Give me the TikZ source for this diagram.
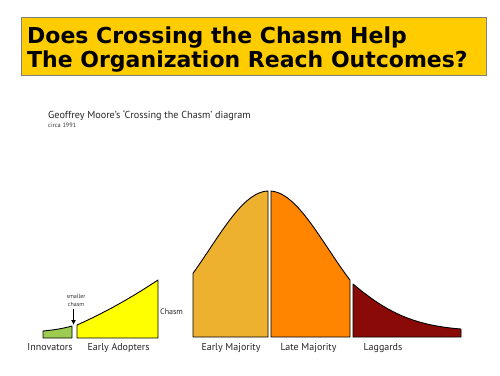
\documentclass[tikz,border=0pt]{standalone}
\usepackage{fontspec}
\setmainfont{PT Sans}
\newfontfamily\titlefont{DejaVu Sans}
\usetikzlibrary{arrows.meta}
\definecolor{titleyellow}{HTML}{FFCC00}
\definecolor{innogreen}{HTML}{9CCC50}
\definecolor{adoptyellow}{HTML}{FFFF00}
\definecolor{emgold}{HTML}{EDB12F}
\definecolor{lmorange}{HTML}{FF8500}
\definecolor{lagred}{HTML}{8A0A08}
\begin{document}
\begin{tikzpicture}[x=1pt,y=-1pt,
  seg/.style={draw=black, line width=0.9pt, line join=round},
  titletext/.style={anchor=base west, inner sep=0pt, font=\titlefont\bfseries\fontsize{22}{24}\selectfont},
  lab/.style={anchor=base, inner sep=0pt, font=\fontsize{10}{12}\selectfont, text=black!85},
  tiny/.style={anchor=base, inner sep=0pt, font=\fontsize{6}{7}\selectfont, text=black!80}]
\useasboundingbox (0,0) rectangle (500,375);
% title box
\node (titlebox) [draw=gray, line width=1pt, fill=titleyellow, anchor=north west,
  minimum width=465pt, minimum height=58pt, inner sep=0pt] at (21,17) {};
\node (t1) [titletext] at (27,43) {Does Crossing the Chasm Help};
\node (t2) [titletext] at (27,67) {The Organization Reach Outcomes?};
% subtitle
\node (sub) [anchor=base west, inner sep=0pt, font=\fontsize{10.2}{12}\selectfont, text=black!85] at (48,118) {Geoffrey Moore's `Crossing the Chasm' diagram};
\node (circa) [anchor=base west, inner sep=0pt, font=\fontsize{6.3}{7}\selectfont, text=black!80] at (48,127) {circa 1991};
% innovators
\path[seg, fill=innogreen] (43,338) -- (43,331) .. controls (54,330) and (63,328.5) .. (72,326) -- (72,338) -- cycle;
% early adopters
\path[seg, fill=adoptyellow] (77,338) -- plot[domain=77:158, samples=40, smooth] (\x, {338 - (13 + 0.4458*(\x-77) + 0.001355*(\x-77)*(\x-77))}) -- (158,338) -- cycle;
% early majority
\path[seg, fill=emgold] (193,337) -- plot[domain=193:268, samples=50, smooth] (\x, {337 - 146*exp(-((\x-269)/59)*((\x-269)/59)/2)}) -- (268,337) -- cycle;
% late majority
\path[seg, fill=lmorange] (271,337) -- plot[domain=271:350, samples=50, smooth] (\x, {337 - 146*exp(-((\x-269)/59)*((\x-269)/59)/2)}) -- (350,337) -- cycle;
% laggards
\path[seg, fill=lagred] (353,337) -- plot[domain=353:461, samples=50, smooth] (\x, {337 - (6 + 99.4*exp(-((\x-269)/97.07)*((\x-269)/97.07)))}) -- (461,337) -- cycle;
% smaller chasm arrow
\node (sm1) [tiny] at (76,298) {smaller};
\node (sm2) [tiny] at (76,306) {chasm};
\coordinate (gap) at (73.5,325);
\draw[line width=0.9pt, -{Latex[length=5pt,width=5pt]}] (73.5,309) -- (gap);
% labels
\node (chasm) [anchor=base west, inner sep=0pt, font=\fontsize{8}{10}\selectfont, text=black!85] at (160,314) {Chasm};
\node (inno) [lab] at (50,350) {Innovators};
\node (ea) [lab] at (118.5,350) {Early Adopters};
\node (em) [lab] at (231,350) {Early Majority};
\node (lm) [lab] at (308.5,350) {Late Majority};
\node (lg) [lab] at (383,350) {Laggards};
\end{tikzpicture}
\end{document}
